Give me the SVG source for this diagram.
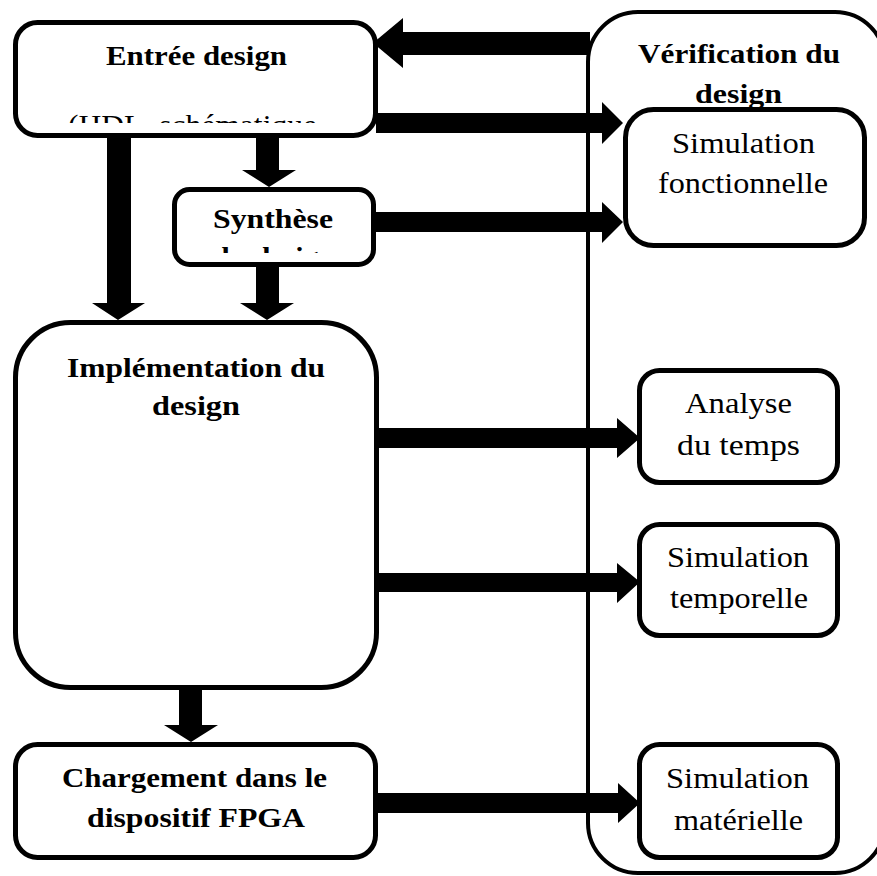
<svg xmlns="http://www.w3.org/2000/svg" width="877" height="876" viewBox="0 0 877 876">
<style>
.box{fill:#fff;stroke:#000;stroke-width:5}
.big{fill:#fff;stroke:#000;stroke-width:4}
.b{font-family:"Liberation Serif","Times New Roman",serif;font-weight:bold;font-size:27px;fill:#000}
.r{font-family:"Liberation Serif","Times New Roman",serif;font-size:29px;fill:#000}
.arr{fill:#000}
</style>
<defs>
<clipPath id="clipE"><rect x="15" y="20" width="362" height="103"/></clipPath>
<clipPath id="clipS"><rect x="174" y="189" width="200" height="64"/></clipPath>
</defs>
<g id="verification">
<rect class="big" x="588" y="12" width="297" height="861" rx="50"/>
<text class="b" x="638" y="63" textLength="202" lengthAdjust="spacingAndGlyphs">Vérification du</text>
<text class="b" x="695" y="103" textLength="87" lengthAdjust="spacingAndGlyphs">design</text>
</g>
<g id="connectors">
<polygon class="arr" points="590,32 403,32 403,18 373,43 403,68 403,55 590,55"/>
<polygon class="arr" points="376,113 602,113 602,102 623,123 602,144 602,133 376,133"/>
<polygon class="arr" points="374,212 602,212 602,202 623,222 602,243 602,232 374,232"/>
<polygon class="arr" points="107,136 131,136 131,303 145,303 118,320 92,303 107,303"/>
<polygon class="arr" points="256,136 279,136 279,170 296,170 269,187 242,170 256,170"/>
<polygon class="arr" points="256,265 279,265 279,303 294,303 267,320 240,303 256,303"/>
<polygon class="arr" points="377,428 617,428 617,418 640,438 617,458 617,448 377,448"/>
<polygon class="arr" points="377,573 617,573 617,563 640,582 617,603 617,592 377,592"/>
<polygon class="arr" points="179,688 202,688 202,725 218,725 191,742 164,725 179,725"/>
<polygon class="arr" points="376,793 618,793 618,783 640,803 618,823 618,813 376,813"/>
</g>
<g id="entree">
<rect class="box" x="15.5" y="22.5" width="360" height="113" rx="22"/>
<text class="b" x="106" y="65" textLength="181" lengthAdjust="spacingAndGlyphs">Entrée design</text>
<g clip-path="url(#clipE)">
<text class="r" x="68" y="135" textLength="249" lengthAdjust="spacingAndGlyphs">(HDL, schématique</text>
</g>
</g>
<g id="synthese">
<rect class="box" x="174.5" y="189.5" width="199" height="75" rx="15"/>
<text class="b" x="213" y="228" textLength="120" lengthAdjust="spacingAndGlyphs">Synthèse</text>
<g clip-path="url(#clipS)">
<text class="b" x="213" y="266" textLength="122" lengthAdjust="spacingAndGlyphs">du design</text>
</g>
</g>
<g id="implementation">
<rect class="box" x="15.5" y="322.5" width="361" height="365" rx="55"/>
<text class="b" x="67" y="377" textLength="258" lengthAdjust="spacingAndGlyphs">Implémentation du</text>
<text class="b" x="152" y="415" textLength="88" lengthAdjust="spacingAndGlyphs">design</text>
</g>
<g id="chargement">
<rect class="box" x="15.5" y="744.5" width="360" height="113" rx="22"/>
<text class="b" x="62" y="787" textLength="265" lengthAdjust="spacingAndGlyphs">Chargement dans le</text>
<text class="b" x="87" y="827" textLength="218" lengthAdjust="spacingAndGlyphs">dispositif FPGA</text>
</g>
<g id="simfonctionnelle">
<rect class="box" x="625.5" y="109.5" width="239" height="136" rx="28"/>
<text class="r" x="672" y="153" textLength="143" lengthAdjust="spacingAndGlyphs">Simulation</text>
<text class="r" x="658" y="193" textLength="170" lengthAdjust="spacingAndGlyphs">fonctionnelle</text>
</g>
<g id="analyse">
<rect class="box" x="639.5" y="370.5" width="198" height="112" rx="20"/>
<text class="r" x="685" y="413" textLength="107" lengthAdjust="spacingAndGlyphs">Analyse</text>
<text class="r" x="677" y="455" textLength="123" lengthAdjust="spacingAndGlyphs">du temps</text>
</g>
<g id="simtemporelle">
<rect class="box" x="639.5" y="524.5" width="198" height="111" rx="20"/>
<text class="r" x="667" y="567" textLength="142" lengthAdjust="spacingAndGlyphs">Simulation</text>
<text class="r" x="670" y="608" textLength="138" lengthAdjust="spacingAndGlyphs">temporelle</text>
</g>
<g id="simmaterielle">
<rect class="box" x="639.5" y="744.5" width="198" height="113" rx="20"/>
<text class="r" x="666" y="788" textLength="143" lengthAdjust="spacingAndGlyphs">Simulation</text>
<text class="r" x="674" y="830" textLength="129" lengthAdjust="spacingAndGlyphs">matérielle</text>
</g>
</svg>
